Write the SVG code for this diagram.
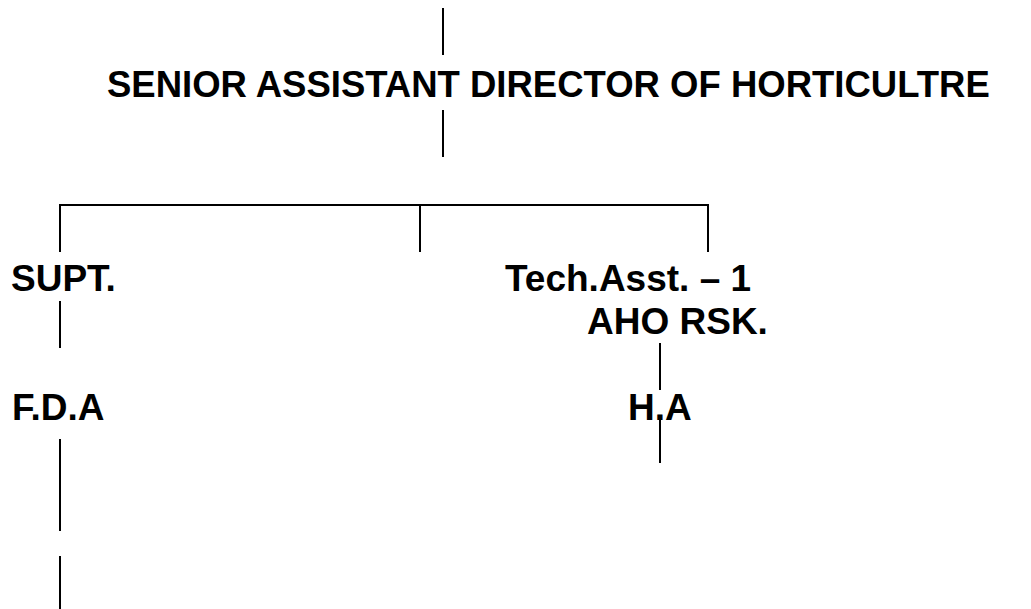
<svg xmlns="http://www.w3.org/2000/svg" width="1031" height="609" viewBox="0 0 1031 609">
<style>
.t{font-family:"Liberation Sans",Arial,sans-serif;font-weight:bold;font-size:37px;fill:#000}
.h{font-size:36.5px}
.c line{stroke:#000;stroke-width:2}
</style>
<rect width="1031" height="609" fill="#fff"/>
<g class="c" id="connectors">
<line x1="443" y1="8" x2="443" y2="55"/>
<line x1="443" y1="110" x2="443" y2="157"/>
<line x1="59" y1="205" x2="709" y2="205"/>
<line x1="60" y1="205" x2="60" y2="252"/>
<line x1="420" y1="205" x2="420" y2="252"/>
<line x1="708" y1="205" x2="708" y2="252"/>
<line x1="60" y1="301" x2="60" y2="348"/>
<line x1="60" y1="439" x2="60" y2="531"/>
<line x1="60" y1="556" x2="60" y2="609"/>
<line x1="660" y1="343" x2="660" y2="390"/>
<line x1="660" y1="416" x2="660" y2="463"/>
</g>
<g id="director"><text class="t h" x="107" y="97">SENIOR ASSISTANT DIRECTOR OF HORTICULTRE</text></g>
<g id="supt"><text class="t" x="11" y="291">SUPT.</text></g>
<g id="techasst"><text class="t" x="505" y="291">Tech.Asst. – 1</text></g>
<g id="aho"><text class="t" x="587" y="334">AHO RSK.</text></g>
<g id="fda"><text class="t" x="12" y="420">F.D.A</text></g>
<g id="ha"><text class="t" x="628" y="420">H.A</text></g>
</svg>
